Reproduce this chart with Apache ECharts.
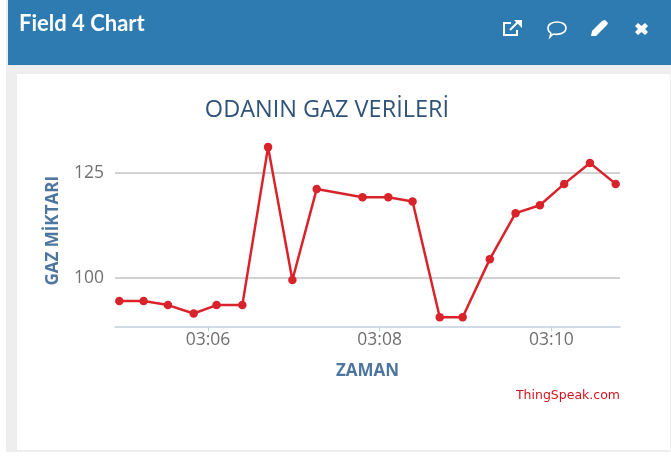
<!DOCTYPE html>
<html><head><meta charset="utf-8">
<style>html,body{margin:0;padding:0;background:#fff}#c{width:671px;height:458px}</style>
<script src="https://cdn.jsdelivr.net/npm/echarts@6/dist/echarts.min.js"></script>
</head><body><div id="c"></div>
<script>
const times = ['03:04:58','03:05:15','03:05:32','03:05:50','03:06:06','03:06:24','03:06:42','03:06:59','03:07:16','03:07:48','03:08:06','03:08:23','03:08:42','03:08:58','03:09:17','03:09:35','03:09:52','03:10:09','03:10:27','03:10:45'];
const gas = [94.4,94.4,93.4,91.4,93.4,93.4,131.2,99.4,121.2,119.2,119.2,118.2,90.5,90.5,104.4,115.4,117.3,122.4,127.4,122.4];
const yTicks = [100,125];
const xTicks = ['03:06:00','03:08:00','03:10:00'];
const titleText = 'ODANIN GAZ VERİLERİ';
const yName = 'GAZ MİKTARI';
const xName = 'ZAMAN';
const panelTitle = 'Field 4 Chart';
const credit = 'ThingSpeak.com';

const sec = t => { const p = t.split(':').map(Number); return p[0]*3600+p[1]*60+p[2]; };
const pad = n => String(n).padStart(2,'0');
const chart = echarts.init(document.getElementById('c'), null, {renderer:'canvas'});
const font = '"Open Sans","Liberation Sans",sans-serif';
const icon = {stroke:'#fff',lineWidth:2,fill:'none'};
const thin = {stroke:'#fff',lineWidth:1.6,fill:'none'};
chart.setOption({
  animation:false,
  backgroundColor:'#fff',
  grid:{left:115,right:51,top:135,bottom:131.5,containLabel:false},
  title:{text:titleText,left:322,top:93,textAlign:'center',
    textStyle:{fontFamily:font,fontWeight:'normal',fontSize:23.5,color:'#2f5278'}},
  xAxis:{type:'value',min:sec('03:04:55'),max:sec('03:10:48'),
    name:xName,nameLocation:'middle',nameGap:36,
    nameTextStyle:{fontFamily:font,fontWeight:'bold',fontSize:17,color:'#4d759e'},
    axisLine:{show:true,onZero:false,lineStyle:{color:'#c0d0e0',width:1.5}},
    axisTick:{show:true,length:5,lineStyle:{color:'#c0d0e0'},customValues:xTicks.map(sec)},
    axisLabel:{customValues:xTicks.map(sec),margin:5,color:'#707070',fontFamily:font,fontSize:17.5,
      formatter:v=>pad(Math.floor(v/3600))+':'+pad(Math.floor(v%3600/60))},
    splitLine:{show:false}},
  yAxis:{type:'value',min:88.28,max:134.1,
    name:yName,nameLocation:'middle',nameGap:53,nameRotate:90,
    nameTextStyle:{fontFamily:font,fontWeight:'bold',fontSize:17,color:'#4d759e'},
    axisLine:{show:false},axisTick:{show:true,length:0,customValues:yTicks},
    axisLabel:{customValues:yTicks,margin:11,color:'#707070',fontFamily:font,fontSize:17.5,padding:[0,0,5,0]},
    splitLine:{show:true,lineStyle:{color:'#d2d2d2',width:2}}},
  series:[{type:'line',data:times.map((t,i)=>[sec(t),gas[i]]),
    symbol:'circle',symbolSize:8.5,showSymbol:true,
    lineStyle:{color:'#d9232a',width:2.5},itemStyle:{color:'#d9232a'},clip:false}],
  graphic:[
    {type:'rect',z:-1,shape:{x:0,y:0,width:671,height:458},style:{fill:'#fff'}},
    {type:'rect',z:-1,shape:{x:6,y:0,width:665,height:452},style:{fill:'#eeeeee'}},
    {type:'rect',z:-1,shape:{x:17,y:74,width:653,height:376},style:{fill:'#fff'}},
    {type:'rect',z:-1,shape:{x:8,y:0,width:663,height:65},style:{fill:'#2e7bb1'}},
    {type:'text',left:19,top:13,style:{text:panelTitle,fill:'#fff',font:'bold 22px Lato, sans-serif'}},
    {type:'text',right:51,top:389,style:{text:credit,fill:'#d6121f',font:'12.5px "DejaVu Sans", sans-serif'}},
    {type:'polyline',shape:{points:[[511,23],[504,23],[504,35],[517,35],[517,30]]},style:icon},
    {type:'polyline',shape:{points:[[510,30],[518,22]]},style:icon},
    {type:'polygon',shape:{points:[[514,20],[522,20],[522,28]]},style:{fill:'#fff'}},
    {type:'bezierCurve',shape:{x1:548,y1:28,cpx1:548,cpy1:20,cpx2:566,cpy2:20,x2:566,y2:28},style:thin},
    {type:'bezierCurve',shape:{x1:566,y1:28,cpx1:566,cpy1:34,cpx2:557,cpy2:35,x2:553,y2:34},style:thin},
    {type:'bezierCurve',shape:{x1:548,y1:28,cpx1:548,cpy1:30,cpx2:549,cpy2:32,x2:551,y2:33},style:thin},
    {type:'polyline',shape:{points:[[551,33],[550,37],[553,34]]},style:thin},
    {type:'polygon',shape:{points:[[591,36],[592,31],[602,21],[605,20],[608,23],[607,25],[596,36]]},style:{fill:'#fff'}},
    {type:'polygon',shape:{points:[[635,26],[638,23],[641.5,26],[645,23],[648,26],[645,29],[648,32],[645,35],[641.5,32],[638,35],[635,32],[638,29]]},style:{fill:'#fff'}}
  ]
});
</script></body></html>
